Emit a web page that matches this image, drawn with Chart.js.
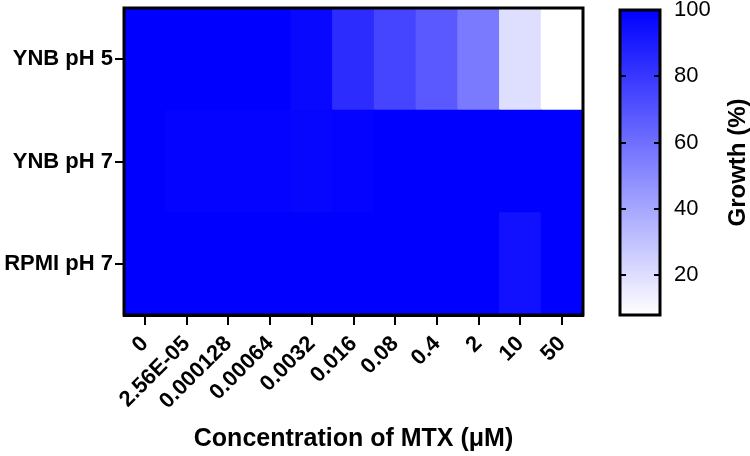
<!DOCTYPE html>
<html>
<head>
<meta charset="utf-8">
<script src="https://cdn.jsdelivr.net/npm/chart.js@4/dist/chart.umd.min.js"></script>
<style>
  html, body { margin: 0; padding: 0; background: #fff; }
  #wrap { position: relative; width: 750px; height: 456px; }
  #main { position: absolute; left: 0; top: 0; }
  #cbar { position: absolute; left: 600px; top: 0; }
</style>
</head>
<body>
<div id="wrap">
  <canvas id="main" width="750" height="456"></canvas>
  <canvas id="cbar" width="150" height="456"></canvas>
</div>
<script>
// ---- data ----
const concentrations = ['0', '2.56E-05', '0.000128', '0.00064', '0.0032', '0.016', '0.08', '0.4', '2', '10', '50'];
const media = ['YNB pH 5', 'YNB pH 7', 'RPMI pH 7'];
const growthYNB5  = [100, 100, 100, 100, 97, 84, 75, 68, 56, 20, 8];
const growthYNB7  = [100, 99, 99, 99, 98, 99, 100, 100, 100, 100, 100];
const growthRPMI7 = [100, 100, 100, 100, 100, 100, 100, 100, 100, 94, 100];
const colorMin = 8;
const colorMax = 100;
const colorTicks = [20, 40, 60, 80, 100];
const xTitle = 'Concentration of MTX (\u03BCM)';
const cbTitle = 'Growth (%)';

// ---- helpers ----
const FONT = "'Liberation Sans', Arial, sans-serif";
function growthColor(v) {
  let t = (v - colorMin) / (colorMax - colorMin);
  t = Math.max(0, Math.min(1, t));
  const c = Math.round(255 * (1 - t));
  return `rgb(${c},${c},255)`;
}
// rows from bottom to top for stacking
const rows = [
  { name: media[2], values: growthRPMI7 },
  { name: media[1], values: growthYNB7 },
  { name: media[0], values: growthYNB5 }
];

const borderPlugin = {
  id: 'frame',
  afterDatasetsDraw(chart) {
    const { ctx, chartArea: a } = chart;
    ctx.save();
    ctx.strokeStyle = '#000';
    ctx.lineWidth = 3;
    ctx.strokeRect(a.left, a.top, a.right - a.left, a.bottom - a.top);
    ctx.restore();
  }
};

new Chart(document.getElementById('main'), {
  type: 'bar',
  data: {
    labels: concentrations,
    datasets: rows.map(r => ({
      label: r.name,
      data: r.values.map(() => 1),
      growth: r.values,
      backgroundColor: r.values.map(growthColor),
      borderWidth: 0,
      barPercentage: 1,
      categoryPercentage: 1,
      inflateAmount: 0.5
    }))
  },
  options: {
    responsive: false,
    animation: false,
    layout: { padding: { top: 8, right: 167, bottom: 0, left: 0 } },
    plugins: { legend: { display: false }, tooltip: { enabled: false } },
    scales: {
      x: {
        stacked: true,
        grid: { offset: false, drawOnChartArea: false, drawTicks: true, tickLength: 10, color: '#000', lineWidth: 2 },
        border: { display: true, color: '#000', width: 3 },
        ticks: {
          autoSkip: false, minRotation: 45, maxRotation: 45, padding: 6,
          color: '#000', font: { family: FONT, size: 22, weight: 'bold' }
        },
        title: {
          display: true, text: xTitle, color: '#000',
          font: { family: FONT, size: 25, weight: 'bold' },
          padding: { top: 0, bottom: 2 }
        },
        afterFit(scale) { scale.height = 141; scale.paddingLeft = 0; scale.paddingRight = 0; }
      },
      y: {
        stacked: true,
        min: 0, max: 3,
        grid: { drawOnChartArea: false, drawTicks: true, tickLength: 9, color: '#000', lineWidth: 2 },
        border: { display: true, color: '#000', width: 3 },
        afterBuildTicks(scale) { scale.ticks = [{ value: 0.5 }, { value: 1.5 }, { value: 2.5 }]; },
        ticks: {
          padding: 2, color: '#000',
          font: { family: FONT, size: 22, weight: 'bold' },
          callback: (v) => rows[Math.floor(v)] ? rows[Math.floor(v)].name : ''
        },
        afterFit(scale) { scale.width = 124; scale.paddingTop = 0; scale.paddingBottom = 0; }
      }
    }
  },
  plugins: [borderPlugin]
});

// ---- colour bar ----
const cbPlugin = {
  id: 'cbdeco',
  afterDatasetsDraw(chart) {
    const { ctx, chartArea: a } = chart;
    const ys = chart.scales.y;
    ctx.save();
    ctx.strokeStyle = '#000';
    ctx.lineWidth = 2;
    colorTicks.forEach(v => {
      if (v >= colorMax) return;
      const y = Math.round(ys.getPixelForValue(v));
      ctx.beginPath();
      ctx.moveTo(a.left, y); ctx.lineTo(a.left + 6, y);
      ctx.moveTo(a.right - 6, y); ctx.lineTo(a.right, y);
      ctx.stroke();
    });
    ctx.lineWidth = 3;
    ctx.strokeRect(a.left, a.top, a.right - a.left, a.bottom - a.top);
    // rotated title
    ctx.fillStyle = '#000';
    ctx.font = `bold 24px ${FONT}`;
    ctx.textAlign = 'center';
    ctx.textBaseline = 'middle';
    ctx.translate(138, (a.top + a.bottom) / 2);
    ctx.rotate(-Math.PI / 2);
    ctx.fillText(cbTitle, 0, 0);
    ctx.restore();
  }
};

new Chart(document.getElementById('cbar'), {
  type: 'bar',
  data: {
    labels: [cbTitle],
    datasets: [{
      data: [[colorMin, colorMax]],
      borderWidth: 0,
      barPercentage: 1,
      categoryPercentage: 1,
      backgroundColor(ctx) {
        const a = ctx.chart.chartArea;
        if (!a) return growthColor(colorMax);
        const ys = ctx.chart.scales.y;
        const g = ctx.chart.ctx.createLinearGradient(0, ys.getPixelForValue(colorMin), 0, ys.getPixelForValue(colorMax));
        g.addColorStop(0, growthColor(colorMin));
        g.addColorStop(1, growthColor(colorMax));
        return g;
      }
    }]
  },
  options: {
    responsive: false,
    animation: false,
    layout: { padding: { top: 10, right: 0, bottom: 141, left: 20 } },
    plugins: { legend: { display: false }, tooltip: { enabled: false } },
    scales: {
      x: { display: false },
      y: {
        position: 'right',
        min: colorMin, max: colorMax,
        afterBuildTicks(scale) { scale.ticks = colorTicks.map(v => ({ value: v })); },
        grid: { display: false, drawTicks: false },
        border: { display: false },
        ticks: { padding: 14, color: '#000', font: { family: FONT, size: 22 } },
        afterFit(scale) { scale.width = 90; scale.paddingTop = 0; scale.paddingBottom = 0; }
      }
    }
  },
  plugins: [cbPlugin]
});
</script>
</body>
</html>
